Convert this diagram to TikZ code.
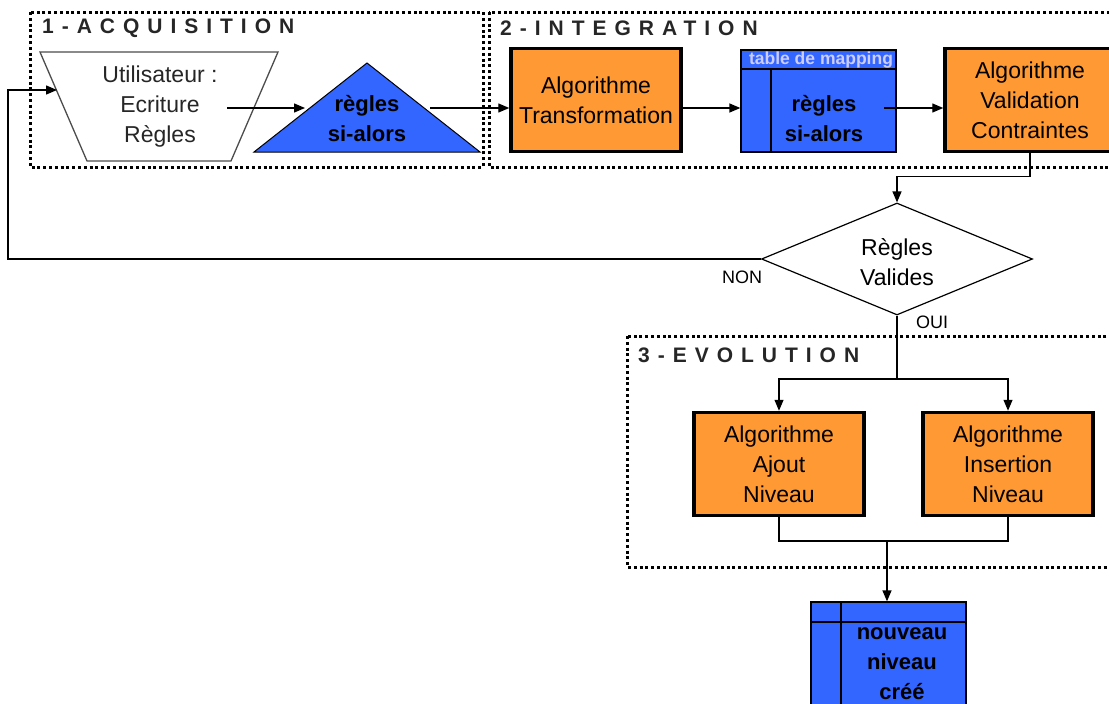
\documentclass[tikz,border=0pt]{standalone}
\usepackage{fontspec}
\setmainfont{Liberation Sans}
\newfontfamily\titlefont[LetterSpace=38]{Liberation Sans}
\usetikzlibrary{arrows.meta,shapes.geometric}

\definecolor{algoorange}{HTML}{FF9933}
\definecolor{tableblue}{HTML}{3366FF}
\definecolor{headtext}{HTML}{CCCCFF}

\tikzset{
  zone/.style={line width=3pt, dash pattern=on 3pt off 2.8pt},
  zonetitle/.style={anchor=base west, inner sep=0pt, text=black!85,
    font=\titlefont\bfseries\fontsize{21}{25}\selectfont},
  algo/.style={draw, line width=3.5pt, fill=algoorange, minimum width=170pt,
    minimum height=103pt, align=center, font=\fontsize{23}{30}\selectfont},
  datatable/.style={draw, line width=1.3pt, fill=tableblue, minimum width=155pt},
  boldtxt/.style={align=center, font=\bfseries\fontsize{22}{30}\selectfont},
  plaintxt/.style={align=center, font=\fontsize{23}{30}\selectfont},
  lbl/.style={font=\fontsize{18}{20}\selectfont},
  wire/.style={line width=1.3pt},
}

\begin{document}
\begin{tikzpicture}[x=1pt, y=-1pt, >={Triangle[length=11pt,width=9pt]}]
\clip (0,0) rectangle (1109,704);

% the three zones
\draw[zone] (30,12) rectangle (483,167);
\draw[zone] (489,12) rectangle (1120,167);
\draw[zone] (627,336) rectangle (1120,567);
\node[zonetitle] (acq) at (42,34) {1-ACQUISITION};
\node[zonetitle] (integ) at (500,35) {2-INTEGRATION};
\node[zonetitle] (evol) at (638,362) {3-EVOLUTION};

% acquisition
\draw[line width=1.3pt, draw=black!70] (40,52) -- (278,52) -- (231,161) -- (87,161) -- cycle;
\node[plaintxt, text=black!85] (user) at (160,107) {Utilisateur :\\Ecriture\\Règles};
\coordinate (userout) at (227,108);
\coordinate (userin) at (57,90);

\draw[line width=1pt, fill=tableblue] (367,63) -- (480,152) -- (254,152) -- cycle;
\node[boldtxt] (rules) at (367,119) {règles\\si-alors};
\coordinate (rulesin) at (305,108);
\coordinate (rulesout) at (430,108);

% integration
\node[algo] (transfo) at (596,100) {Algorithme\\Transformation};

\node[datatable, minimum height=102pt] (mapping) at (818.5,101) {};
\draw[wire] (741,69) -- (896,69);
\draw[wire] (771,69) -- (771,152);
\node[font=\bfseries\fontsize{17.5}{19}\selectfont, text=headtext] (maphead) at (821,60) {table de mapping};
\node[boldtxt] (maptxt) at (824,119) {règles\\si-alors};
\coordinate (mapout) at (884,108);

\node[algo] (valid) at (1030,100) {Algorithme\\Validation\\Contraintes};

% test
\node[draw, diamond, line width=1.2pt, minimum width=271pt, minimum height=112pt,
  aspect=2.4, inner sep=0pt] (check) at (897,259) {};
\node[plaintxt] (checktxt) at (897,262) {Règles\\Valides};
\coordinate (loop) at (8,259);
\node[lbl] (non) at (742,277) {NON};
\node[lbl] (oui) at (932,322) {OUI};

% evolution
\node[algo] (ajout) at (779,464) {Algorithme\\Ajout\\Niveau};
\node[algo] (insert) at (1008,464) {Algorithme\\Insertion\\Niveau};
\coordinate (split) at (897,379);
\coordinate (merge) at (887,541);

\node[datatable, minimum height=120pt] (newlevel) at (888.5,662) {};
\draw[wire] (811,622) -- (966,622);
\draw[wire] (841,602) -- (841,722);
\node[boldtxt] (newtxt) at (902,664) {nouveau\\niveau\\créé};

% connectors
\draw[wire,->] (userout) -- (rulesin);
\draw[wire,->] (rulesout) -- (rulesout -| transfo.west);
\draw[wire,->] (transfo.east |- mapout) -- (mapping.west |- mapout);
\draw[wire,->] (mapout) -- (mapout -| valid.west);
\draw[wire,->] (valid.south) -- ++(0,23) -| (check.north);
\draw[wire,->] (check.west) -- (loop) |- (userin);
\draw[wire] (check.south) -- (split);
\draw[wire,->] (split) -| (ajout.north);
\draw[wire,->] (split) -| (insert.north);
\draw[wire] (ajout.south) |- (merge) -| (insert.south);
\draw[wire,->] (merge) -- (merge |- newlevel.north);
\end{tikzpicture}
\end{document}
